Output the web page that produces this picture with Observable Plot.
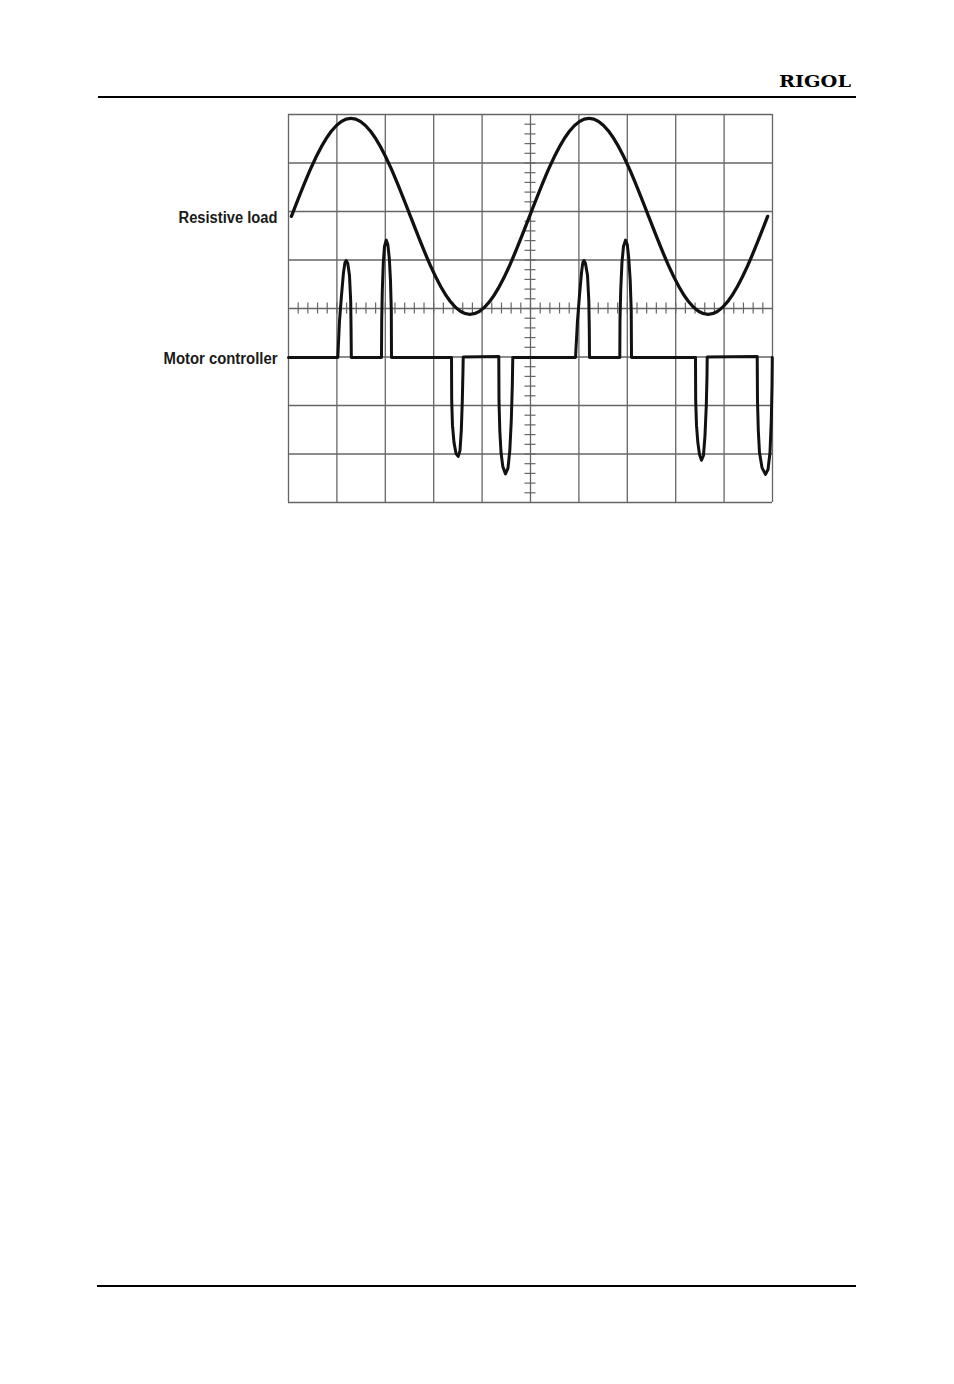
<!DOCTYPE html>
<html>
<head>
<meta charset="utf-8">
<script src="https://cdn.jsdelivr.net/npm/d3@7"></script>
<script src="https://cdn.jsdelivr.net/npm/@observablehq/plot@0.6"></script>
<style>
  html, body { margin: 0; padding: 0; background: #fff; }
  body { width: 954px; height: 1384px; position: relative; overflow: hidden; font-family: "Liberation Sans", Arial, sans-serif; }
  #header { position: absolute; left: 0; top: 0; }
  #rule-top { position: absolute; left: 98px; top: 96px; width: 758px; height: 2px; background: #000; }
  #rule-bottom { position: absolute; left: 97px; top: 1285px; width: 759px; height: 2px; background: #000; }
  #chart { position: absolute; left: 0; top: 0; }
</style>
</head>
<body>
<svg id="header" width="954" height="95">
  <text x="779" y="87" font-family="'DejaVu Serif', 'Liberation Serif', serif" font-weight="bold" font-size="17" textLength="72" lengthAdjust="spacingAndGlyphs" fill="#000">RIGOL</text>
</svg>
<div id="rule-top"></div>
<div id="chart"></div>
<div id="rule-bottom"></div>
<script>
// Grid (in divisions): 10 horizontal x 8 vertical
const gridX = [0, 1, 2, 3, 4, 5, 6, 7, 8, 9, 10];
const gridY = [-4, -3, -2, -1, 0, 1, 2, 3, 4];
const minorX = d3.range(0, 50).map(i => i * 0.2).filter(v => v > 0);
const minorY = d3.range(-20, 21).map(i => i * 0.2).filter(v => v > -4 && v < 4);

// Trace labels
const labels = ["Resistive load", "Motor controller"];
const labelY = [1.9, -1.0];

// Resistive load trace (sine)
const sineX = [0.06, 0.47, 0.88, 1.29, 1.70, 2.11, 2.52, 2.93, 3.34, 3.75, 4.16, 4.57, 4.98,
               5.39, 5.80, 6.21, 6.62, 7.03, 7.44, 7.85, 8.26, 8.67, 9.08, 9.49, 9.90];
const sineY = [1.90, 2.91, 3.65, 3.92, 3.65, 2.91, 1.90, 0.89, 0.15, -0.12, 0.15, 0.89, 1.90,
               2.91, 3.65, 3.92, 3.65, 2.91, 1.90, 0.89, 0.15, -0.12, 0.15, 0.89, 1.90];

// Motor controller trace
const motorX = [0, 1.019,
  1.054, 1.095, 1.136, 1.167, 1.192, 1.225, 1.260, 1.285, 1.293, 1.298,
  1.921,
  1.926, 1.938, 1.959, 1.983, 2.019, 2.052, 2.083, 2.107, 2.124, 2.128,
  3.368,
  3.372, 3.388, 3.419, 3.461, 3.506, 3.543, 3.570, 3.591, 3.605, 3.610,
  4.345,
  4.349, 4.366, 4.391, 4.428, 4.483, 4.535, 4.572, 4.603, 4.624, 4.634,
  5.930,
  5.971, 6.012, 6.054, 6.081, 6.105, 6.136, 6.178, 6.205, 6.215, 6.219,
  6.845,
  6.849, 6.864, 6.890, 6.921, 6.963, 7.000, 7.031, 7.060, 7.081, 7.087,
  8.409,
  8.413, 8.430, 8.457, 8.492, 8.533, 8.574, 8.605, 8.632, 8.647, 8.651,
  9.684,
  9.690, 9.707, 9.731, 9.783, 9.855, 9.907, 9.948, 9.975, 9.990, 9.996];
const motorY = [-1.01, -1.01,
  -0.25, 0.27, 0.74, 0.95, 0.99, 0.93, 0.68, 0.16, -0.45, -1.01,
  -1.01,
  -0.25, 0.37, 0.95, 1.28, 1.41, 1.32, 1.03, 0.58, -0.04, -1.01,
  -1.01,
  -1.90, -2.41, -2.76, -2.99, -3.05, -2.93, -2.52, -1.90, -1.28, -1.00,
  -0.99,
  -1.90, -2.52, -2.97, -3.26, -3.41, -3.29, -2.93, -2.31, -1.59, -1.01,
  -1.01,
  -0.25, 0.27, 0.74, 0.95, 0.99, 0.93, 0.68, 0.16, -0.45, -1.01,
  -1.01,
  -0.25, 0.37, 0.95, 1.28, 1.41, 1.32, 1.03, 0.58, -0.04, -1.01,
  -1.01,
  -1.90, -2.41, -2.76, -3.01, -3.13, -3.03, -2.62, -2.00, -1.38, -1.00,
  -0.99,
  -1.90, -2.52, -2.97, -3.28, -3.42, -3.32, -2.97, -2.31, -1.59, -1.01];

const sine = sineX.map((x, i) => ({x, y: sineY[i]}));
const motor = motorX.map((x, i) => ({x, y: motorY[i]}));
const labelData = labels.map((t, i) => ({t, y: labelY[i]}));

const gridColor = "#666";
const tkY = 5.5 / 48.5;
const tkX = 5.5 / 48.4;

const chart = Plot.plot({
  width: 954,
  height: 520,
  marginLeft: 288,
  marginRight: 182,
  marginTop: 114,
  marginBottom: 18,
  x: {domain: [0, 10], axis: null},
  y: {domain: [-4, 4], axis: null},
  style: {background: "transparent", overflow: "visible"},
  marks: [
    Plot.ruleX(gridX, {stroke: gridColor, strokeWidth: 1.3}),
    Plot.ruleY(gridY, {stroke: gridColor, strokeWidth: 1.3}),
    Plot.ruleX(minorX, {y1: -tkY, y2: tkY, stroke: gridColor, strokeWidth: 1.2}),
    Plot.ruleY(minorY, {x1: 5 - tkX, x2: 5 + tkX, stroke: gridColor, strokeWidth: 1.2}),
    Plot.line(sine, {x: "x", y: "y", curve: "natural", stroke: "#111", strokeWidth: 3.3}),
    Plot.line(motor, {x: "x", y: "y", curve: "linear", stroke: "#111", strokeWidth: 3, strokeLinejoin: "round"}),
    Plot.text(labelData, {x: 0, y: "y", text: "t", textAnchor: "end", dx: -11, dy: 2, fontSize: 16, fontWeight: "bold", fontFamily: "'Liberation Sans', Arial, sans-serif", fill: "#1a1a1a"})
  ]
});
// slightly condensed label lettering, as in the original figure
const labelWidths = {"Resistive load": 99, "Motor controller": 114};
d3.select(chart).selectAll("text").each(function() {
  const w = labelWidths[this.textContent];
  if (w) d3.select(this).attr("textLength", w).attr("lengthAdjust", "spacingAndGlyphs");
});
document.getElementById("chart").appendChild(chart);
</script>
</body>
</html>
